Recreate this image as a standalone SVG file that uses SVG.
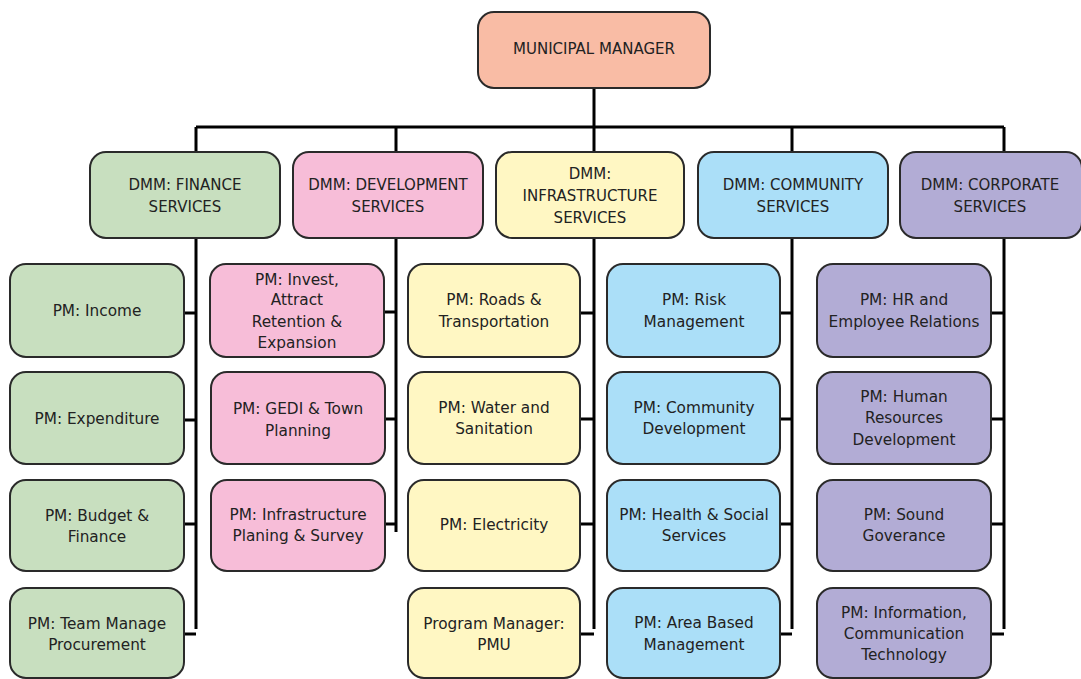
<svg xmlns="http://www.w3.org/2000/svg" width="1081" height="679" viewBox="0 0 1081 679">
<style>
.b{stroke:#2a2a2a;stroke-width:2}
.t{font-family:"DejaVu Sans","Liberation Sans",sans-serif;font-size:15px;fill:#222;text-anchor:middle;dominant-baseline:central}
.p{font-size:15.3px}
.c{stroke:#000;stroke-width:3;fill:none}
.mm{fill:#f9bca5}.fi{fill:#c8dfbf}.de{fill:#f7bdd8}.in{fill:#fff7c3}.co{fill:#abdff8}.cp{fill:#b2acd5}
</style>
<rect width="1081" height="679" fill="#fff"/>
<g id="connectors">
<path class="c" d="M594 88V127M196 127H1004M196 127V152M396 127V152M594 127V152M792 127V152M1004 127V152"/>
<path class="c" d="M196 238V629M184 313H196M184 420H196M184 524H196M184 634H196"/>
<path class="c" d="M396 238V532M384 312H396M384 419H396M384 524H396"/>
<path class="c" d="M594 238V629M580 313H594M580 419H594M580 524H594M580 634H594"/>
<path class="c" d="M792 238V629M780 313H792M780 419H792M780 524H792M780 634H792"/>
<path class="c" d="M1004 238V629M991 313H1004M991 419H1004M991 524H1004M991 634H1004"/>
</g>
<g id="mm"><rect class="b mm" x="478" y="12" width="232" height="76" rx="16"/><text class="t" x="594" y="49">MUNICIPAL MANAGER</text></g>
<g id="dmm-finance"><rect class="b fi" x="90" y="152" width="190" height="86" rx="16"/><text class="t" x="185"><tspan x="185" y="185">DMM: FINANCE</tspan><tspan x="185" y="207">SERVICES</tspan></text></g>
<g id="dmm-development"><rect class="b de" x="293" y="152" width="190" height="86" rx="16"/><text class="t" x="388"><tspan x="388" y="185">DMM: DEVELOPMENT</tspan><tspan x="388" y="207">SERVICES</tspan></text></g>
<g id="dmm-infrastructure"><rect class="b in" x="496" y="152" width="188" height="86" rx="16"/><text class="t"><tspan x="590" y="174">DMM:</tspan><tspan x="590" y="196">INFRASTRUCTURE</tspan><tspan x="590" y="218">SERVICES</tspan></text></g>
<g id="dmm-community"><rect class="b co" x="698" y="152" width="190" height="86" rx="16"/><text class="t"><tspan x="793" y="185">DMM: COMMUNITY</tspan><tspan x="793" y="207">SERVICES</tspan></text></g>
<g id="dmm-corporate"><rect class="b cp" x="900" y="152" width="182" height="86" rx="16"/><text class="t"><tspan x="990" y="185">DMM: CORPORATE</tspan><tspan x="990" y="207">SERVICES</tspan></text></g>

<g id="pm-income"><rect class="b fi" x="10" y="264" width="174" height="93" rx="16"/><text class="t p" x="97" y="311">PM: Income</text></g>
<g id="pm-expenditure"><rect class="b fi" x="10" y="372" width="174" height="92" rx="16"/><text class="t p" x="97" y="419">PM: Expenditure</text></g>
<g id="pm-budget"><rect class="b fi" x="10" y="480" width="174" height="91" rx="16"/><text class="t p"><tspan x="97" y="516">PM: Budget &amp;</tspan><tspan x="97" y="537">Finance</tspan></text></g>
<g id="pm-procurement"><rect class="b fi" x="10" y="588" width="174" height="90" rx="16"/><text class="t p"><tspan x="97" y="624">PM: Team Manage</tspan><tspan x="97" y="645">Procurement</tspan></text></g>

<g id="pm-invest"><rect class="b de" x="210" y="264" width="174" height="93" rx="16"/><text class="t p"><tspan x="297" y="280">PM: Invest,</tspan><tspan x="297" y="300">Attract</tspan><tspan x="297" y="322">Retention &amp;</tspan><tspan x="297" y="343">Expansion</tspan></text></g>
<g id="pm-gedi"><rect class="b de" x="211" y="372" width="174" height="92" rx="16"/><text class="t p"><tspan x="298" y="409">PM: GEDI &amp; Town</tspan><tspan x="298" y="431">Planning</tspan></text></g>
<g id="pm-infraplan"><rect class="b de" x="211" y="480" width="174" height="91" rx="16"/><text class="t p"><tspan x="298" y="515">PM: Infrastructure</tspan><tspan x="298" y="536">Planing &amp; Survey</tspan></text></g>

<g id="pm-roads"><rect class="b in" x="408" y="264" width="172" height="93" rx="16"/><text class="t p"><tspan x="494" y="300">PM: Roads &amp;</tspan><tspan x="494" y="322">Transportation</tspan></text></g>
<g id="pm-water"><rect class="b in" x="408" y="372" width="172" height="92" rx="16"/><text class="t p"><tspan x="494" y="408">PM: Water and</tspan><tspan x="494" y="429">Sanitation</tspan></text></g>
<g id="pm-electricity"><rect class="b in" x="408" y="480" width="172" height="91" rx="16"/><text class="t p" x="494" y="525">PM: Electricity</text></g>
<g id="pm-pmu"><rect class="b in" x="408" y="588" width="172" height="90" rx="16"/><text class="t p"><tspan x="494" y="624">Program Manager:</tspan><tspan x="494" y="645">PMU</tspan></text></g>

<g id="pm-risk"><rect class="b co" x="607" y="264" width="173" height="93" rx="16"/><text class="t p"><tspan x="694" y="300">PM: Risk</tspan><tspan x="694" y="322">Management</tspan></text></g>
<g id="pm-community"><rect class="b co" x="607" y="372" width="173" height="92" rx="16"/><text class="t p"><tspan x="694" y="408">PM: Community</tspan><tspan x="694" y="429">Development</tspan></text></g>
<g id="pm-health"><rect class="b co" x="607" y="480" width="173" height="91" rx="16"/><text class="t p"><tspan x="694" y="515">PM: Health &amp; Social</tspan><tspan x="694" y="536">Services</tspan></text></g>
<g id="pm-area"><rect class="b co" x="607" y="588" width="173" height="90" rx="16"/><text class="t p"><tspan x="694" y="623">PM: Area Based</tspan><tspan x="694" y="645">Management</tspan></text></g>

<g id="pm-hr"><rect class="b cp" x="817" y="264" width="174" height="93" rx="16"/><text class="t p"><tspan x="904" y="300">PM: HR and</tspan><tspan x="904" y="322">Employee Relations</tspan></text></g>
<g id="pm-hrd"><rect class="b cp" x="817" y="372" width="174" height="92" rx="16"/><text class="t p"><tspan x="904" y="397">PM: Human</tspan><tspan x="904" y="418">Resources</tspan><tspan x="904" y="440">Development</tspan></text></g>
<g id="pm-governance"><rect class="b cp" x="817" y="480" width="174" height="91" rx="16"/><text class="t p"><tspan x="904" y="515">PM: Sound</tspan><tspan x="904" y="536">Goverance</tspan></text></g>
<g id="pm-ict"><rect class="b cp" x="817" y="588" width="174" height="90" rx="16"/><text class="t p"><tspan x="904" y="613">PM: Information,</tspan><tspan x="904" y="634">Communication</tspan><tspan x="904" y="655">Technology</tspan></text></g>
</svg>
